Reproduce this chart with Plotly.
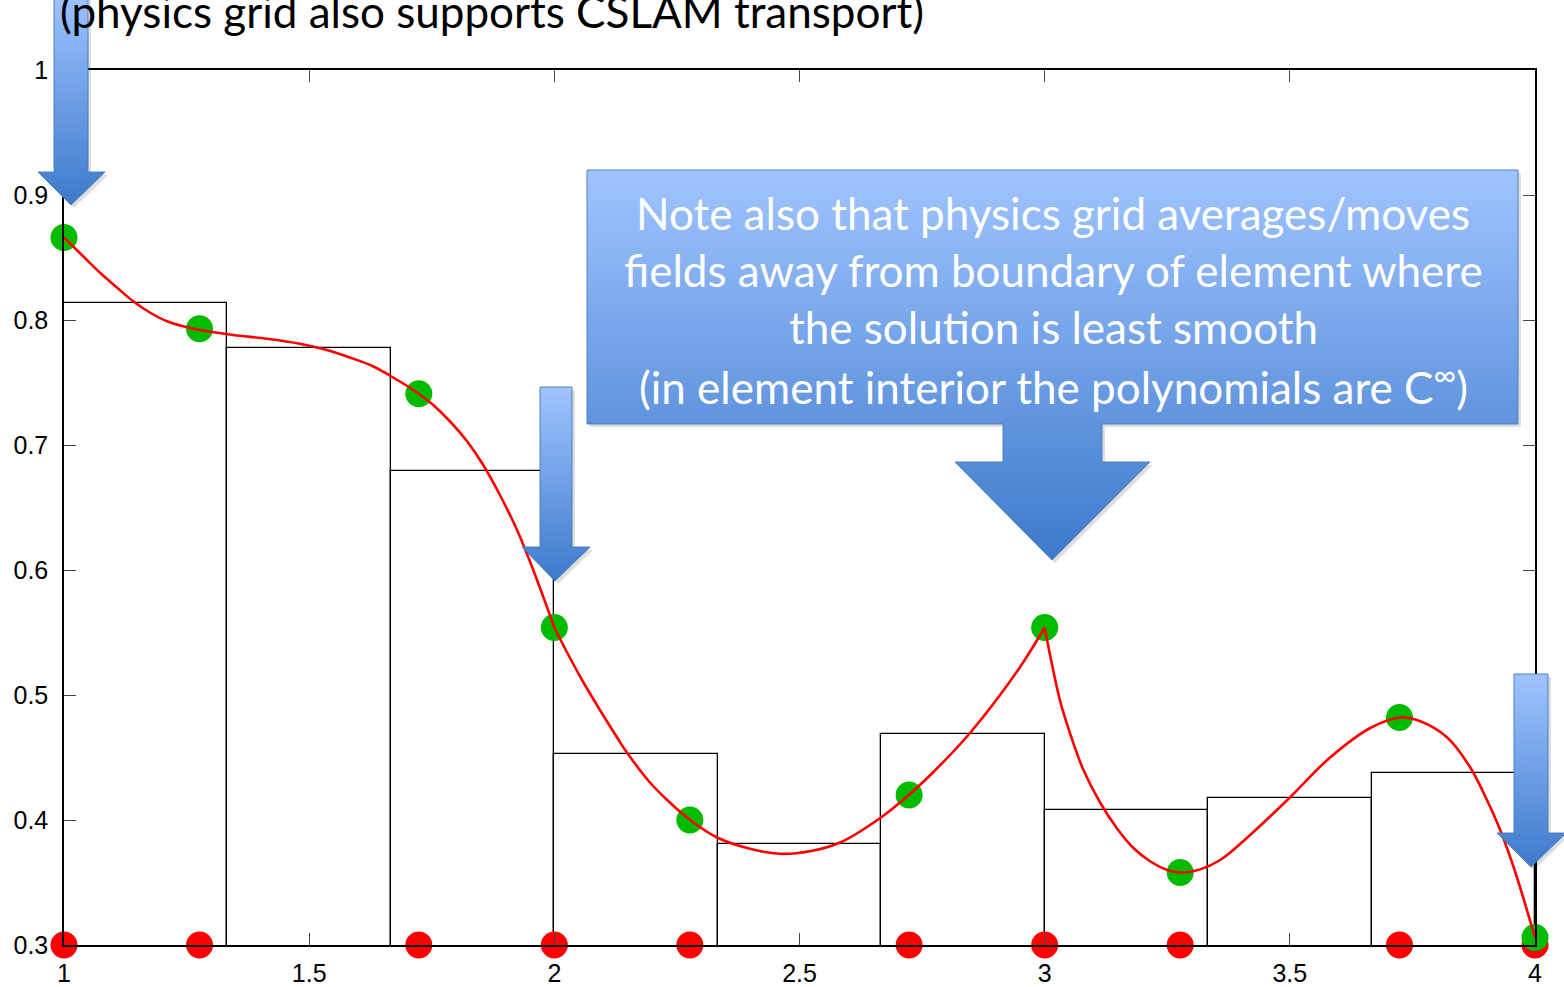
import plotly.graph_objects as go

W, H = 1564, 987

# ---------------- data ----------------
gll_x = [1.0, 1.2764, 1.7236, 2.0, 2.2764, 2.7236, 3.0, 3.2764, 3.7236, 4.0]
gll_y = [0.866, 0.793, 0.741, 0.554, 0.400, 0.420, 0.554, 0.358, 0.482, 0.306]
base_y = [0.3] * len(gll_x)

cell_centers = [1 + 1/6 + k/3 for k in range(9)]
cell_width = 1/3
cell_values = [0.814, 0.778, 0.679, 0.453, 0.381, 0.469, 0.408, 0.418, 0.438]

elem1_x = [1.0, 1.039, 1.073, 1.108, 1.141, 1.175, 1.210, 1.243, 1.277, 1.345, 1.414, 1.481, 1.536,
           1.583, 1.630, 1.667, 1.720, 1.753, 1.787, 1.822, 1.855, 1.889, 1.924, 1.957, 2.0]
elem1_y = [0.866, 0.851, 0.838, 0.826, 0.815, 0.806, 0.799, 0.795, 0.792, 0.788, 0.785, 0.781, 0.776,
           0.770, 0.763, 0.755, 0.742, 0.732, 0.719, 0.703, 0.684, 0.660, 0.632, 0.600, 0.554]
elem2_x = [2.0, 2.026, 2.058, 2.093, 2.128, 2.148, 2.195, 2.230, 2.277, 2.332, 2.399, 2.460, 2.521,
           2.583, 2.666, 2.723, 2.772, 2.842, 2.909, 2.956, 3.0]
elem2_y = [0.554, 0.534, 0.511, 0.488, 0.466, 0.454, 0.430, 0.416, 0.400, 0.386, 0.377, 0.373, 0.375,
           0.382, 0.402, 0.420, 0.438, 0.467, 0.500, 0.526, 0.554]
elem3_x = [3.0, 3.012, 3.031, 3.052, 3.078, 3.113, 3.148, 3.180, 3.215, 3.250, 3.276, 3.317, 3.358,
           3.419, 3.500, 3.582, 3.666, 3.725, 3.766, 3.821, 3.868, 3.902, 3.929, 3.960, 4.0]
elem3_y = [0.554, 0.530, 0.496, 0.469, 0.441, 0.414, 0.393, 0.378, 0.367, 0.360, 0.358, 0.3605, 0.368,
           0.388, 0.418, 0.450, 0.474, 0.482, 0.479, 0.466, 0.442, 0.416, 0.392, 0.358, 0.306]
elements = [(elem1_x, elem1_y), (elem2_x, elem2_y), (elem3_x, elem3_y)]

x_ticks = [1, 1.5, 2, 2.5, 3, 3.5, 4]
x_tick_labels = ["1", "1.5", "2", "2.5", "3", "3.5", "4"]
y_ticks = [0.3, 0.4, 0.5, 0.6, 0.7, 0.8, 0.9, 1.0]
y_tick_labels = ["0.3", "0.4", "0.5", "0.6", "0.7", "0.8", "0.9", "1"]

title_text = "(physics grid also supports CSLAM transport)"
note_lines = [
    "Note also that physics grid averages/moves",
    "fields away from boundary of element where",
    "the solution is least smooth",
    "(in element interior the polynomials are C<sup>∞</sup>)",
]

# ---------------- figure ----------------
fig = go.Figure()

# main chart (x / y)
fig.add_trace(go.Scatter(x=gll_x, y=base_y, mode="markers", cliponaxis=False,
                         marker=dict(size=27, color="#ff0000"), showlegend=False))
fig.add_trace(go.Scatter(x=gll_x, y=gll_y, mode="markers", cliponaxis=False,
                         marker=dict(size=27, color="#00bb00"), showlegend=False))
fig.add_trace(go.Bar(x=cell_centers, y=cell_values, width=cell_width,
                     marker=dict(color="rgba(0,0,0,0)", line=dict(color="black", width=1.3)),
                     showlegend=False))
for ex, ey in elements:
    fig.add_trace(go.Scatter(x=ex, y=ey, mode="lines",
                             line=dict(color="#ff0000", width=2.6, shape="spline", smoothing=1.0),
                             showlegend=False))

LIGHT = "#a0c4ff"
DARK = "#3d7acb"


def add_shape(xs, ys, y0, y1):
    xs = list(xs) + [xs[0]]
    ys = list(ys) + [ys[0]]
    fig.add_trace(go.Scatter(x=[v + 3 for v in xs], y=[v + 3 for v in ys], mode="lines", fill="toself",
                             fillcolor="rgba(0,0,0,0.13)", line=dict(width=0),
                             xaxis="x2", yaxis="y2", showlegend=False, hoverinfo="skip"))
    fig.add_trace(go.Scatter(x=xs, y=ys, mode="lines", fill="toself",
                             fillgradient=dict(type="vertical", start=y0, stop=y1,
                                               colorscale=[[0, LIGHT], [1, DARK]]),
                             line=dict(color="rgba(70,120,190,0.9)", width=1),
                             xaxis="x2", yaxis="y2", showlegend=False, hoverinfo="skip"))


def down_arrow(sx0, sx1, top, hy, hx0, hx1, tipx, tipy):
    xs = [sx0, sx1, sx1, hx1, tipx, hx0, sx0]
    ys = [top, top, hy, hy, tipy, hy, hy]
    add_shape(xs, ys, top, tipy)


down_arrow(54, 88, -10, 172, 38, 105, 71, 205)
down_arrow(540, 572, 387, 547, 522, 590, 555, 581)
down_arrow(1514, 1548, 674, 833, 1497, 1566, 1531, 867)

# callout box with arrow
cx = [587, 1518, 1518, 1102, 1102, 1150, 1052, 955, 1003, 1003, 587]
cy = [170, 170, 424, 424, 462, 462, 560, 462, 462, 424, 424]
add_shape(cx, cy, 170, 560)

line_base = [213, 270, 327, 384]
for txt, yy in zip(note_lines, line_base):
    fig.add_annotation(x=1053, y=yy, xref="x2", yref="y2", text=txt, showarrow=False,
                       font=dict(family="Lato", size=44, color="white"), xanchor="center", yanchor="middle")

# title (partly cut at the top edge, drawn above the arrow)
fig.add_annotation(x=58, y=11, xref="x2", yref="y2", text=title_text, showarrow=False,
                   font=dict(family="Lato", size=44, color="black"), xanchor="left", yanchor="middle")

axis_common = dict(showgrid=False, zeroline=False, showline=True, linecolor="black", linewidth=1.5,
                   mirror="ticks", ticks="inside", ticklen=12, tickwidth=1, tickcolor="#444",
                   automargin=False,
                   tickfont=dict(family="Liberation Sans", size=25, color="black"))

fig.update_layout(
    width=W, height=H, margin=dict(l=0, r=0, t=0, b=0, pad=0, autoexpand=False),
    paper_bgcolor="white", plot_bgcolor="rgba(0,0,0,0)",
    barmode="overlay", bargap=0,
    xaxis=dict(domain=[64 / W, 1535 / W], range=[1, 4], anchor="y", ticklabelstandoff=5,
               tickvals=x_ticks, ticktext=x_tick_labels, **axis_common),
    yaxis=dict(domain=[42 / H, 917 / H], range=[0.3, 1], anchor="x", ticklabelstandoff=9,
               tickvals=y_ticks, ticktext=y_tick_labels, **axis_common),
    xaxis2=dict(domain=[0, 1], range=[0, W], anchor="y2", visible=False, fixedrange=True),
    yaxis2=dict(domain=[0, 1], range=[H, 0], anchor="x2", visible=False, fixedrange=True),
    showlegend=False,
)

fig.write_html("out.html", config={"displayModeBar": False},
               post_script="document.body.style.margin='0';")
